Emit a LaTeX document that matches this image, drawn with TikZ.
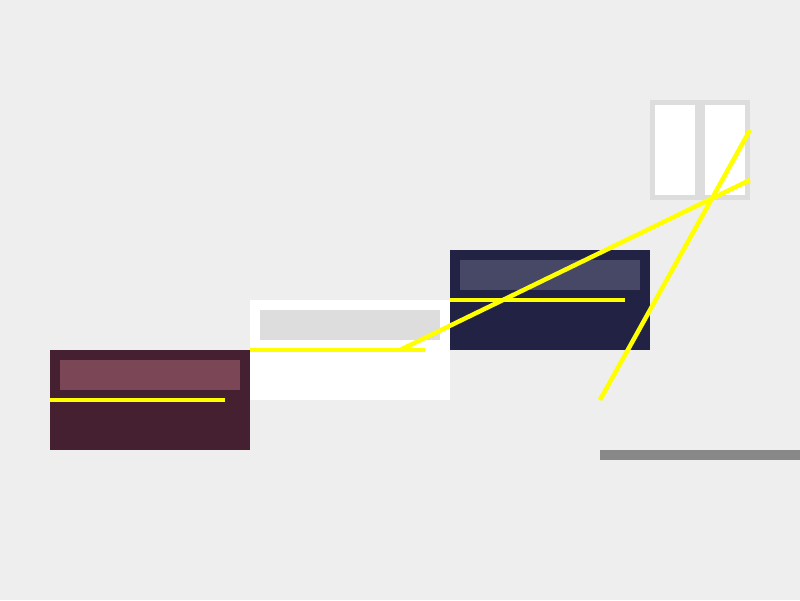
\documentclass[tikz,border=0pt]{standalone}
\begin{document}
\begin{tikzpicture}[x=1pt,y=-1pt,
  ylw/.style={draw={rgb,255:red,255;green,255;blue,0},line width=4.5pt},
  ]
\definecolor{bg}{HTML}{EEEEEE}
\definecolor{maroon}{HTML}{442030}
\definecolor{maroonhi}{HTML}{7B4656}
\definecolor{navy}{HTML}{222244}
\definecolor{navyhi}{HTML}{474766}
\definecolor{frame}{HTML}{DDDDDD}
\definecolor{bar}{HTML}{888888}
\fill[bg] (0,0) rectangle (800,600);
\useasboundingbox (0,0) rectangle (800,600);
% box 1
\fill[maroon] (50,350) rectangle (250,450);
\fill[maroonhi] (60,360) rectangle (240,390);
% box 2
\fill[white] (250,300) rectangle (450,400);
\fill[frame] (260,310) rectangle (440,340);
% box 3
\fill[navy] (450,250) rectangle (650,350);
\fill[navyhi] (460,260) rectangle (640,290);
% window
\fill[frame] (650,100) rectangle (750,200);
\fill[white] (655,105) rectangle (695,195);
\fill[white] (705,105) rectangle (745,195);
% gray bar
\fill[bar] (600,450) rectangle (800,460);
% yellow lines
\coordinate (a1) at (50,400); \coordinate (a2) at (225,400);
\coordinate (b1) at (250,350); \coordinate (b2) at (425,350);
\coordinate (c1) at (450,300); \coordinate (c2) at (625,300);
\coordinate (d1) at (400,350); \coordinate (d2) at (750,180);
\coordinate (e1) at (750,130); \coordinate (e2) at (600,400);
\draw[ylw] (a1) -- (a2);
\draw[ylw] (b1) -- (b2);
\draw[ylw] (c1) -- (c2);
\draw[ylw] (d1) -- (d2);
\draw[ylw] (e1) -- (e2);
\end{tikzpicture}
\end{document}
